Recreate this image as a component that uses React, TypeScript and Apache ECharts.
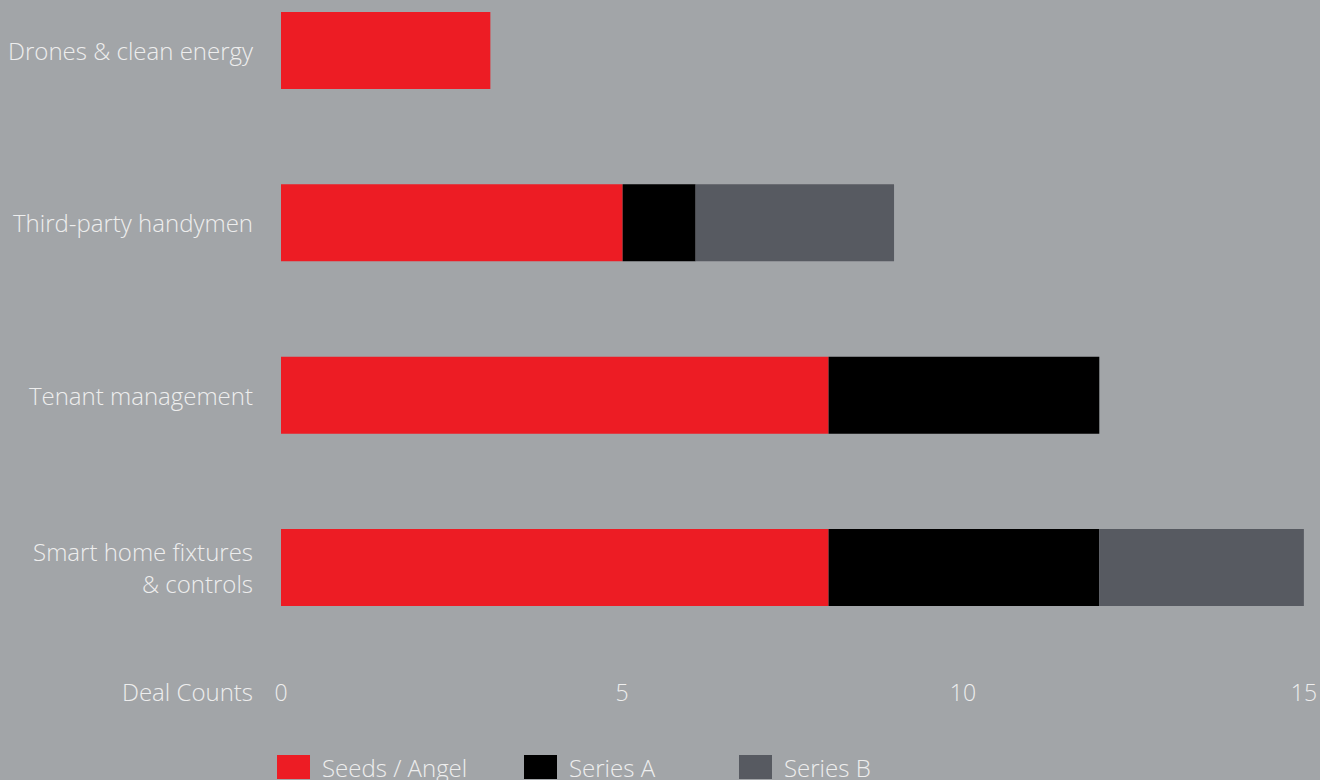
import React, { useEffect, useRef } from "react";
import * as echarts from "echarts";

const categories = [
  "Drones & clean energy",
  "Third-party handymen",
  "Tenant management",
  "Smart home fixtures\n& controls",
];
const seedsAngel = [3.07, 5.01, 8.03, 8.03];
const seriesA = [0, 1.07, 3.97, 3.97];
const seriesB = [0, 2.91, 0, 3.0];
const xTicks = [0, 5, 10, 15];
const seriesNames = ["Seeds / Angel", "Series A", "Series B"];
const colors = ["#ed1c24", "#000000", "#575a61"];

const FONT = "'Open Sans', Lato, sans-serif";
const TEXT = "#eeeeee";

export default function App() {
  const ref = useRef<HTMLDivElement>(null);
  useEffect(() => {
    const chart = echarts.init(ref.current!, null, { renderer: "svg" });
    const values = [seedsAngel, seriesA, seriesB];
    const legendLefts = [277, 524, 739];
    chart.setOption({
      animation: false,
      backgroundColor: "#a2a5a8",
      textStyle: { fontFamily: FONT, fontWeight: 300 },
      grid: { left: 281, width: 1028, top: 50.5, height: 517, containLabel: false },
      xAxis: {
        type: "value",
        min: xTicks[0],
        max: xTicks[xTicks.length - 1],
        interval: 5,
        splitLine: { show: false },
        axisLine: { show: false },
        axisTick: { show: false },
        axisLabel: {
          color: TEXT,
          fontSize: 23,
          fontFamily: FONT,
          fontWeight: 300,
          margin: 113,
        },
      },
      yAxis: {
        type: "category",
        inverse: true,
        boundaryGap: false,
        data: categories,
        axisLine: { show: false },
        axisTick: { show: false },
        splitLine: { show: false },
        axisLabel: {
          color: TEXT,
          fontSize: 24,
          fontFamily: FONT,
          fontWeight: 300,
          margin: 28,
          lineHeight: 32,
          align: "right",
        },
      },
      legend: seriesNames.map((n, i) => ({
        data: [n],
        left: legendLefts[i],
        top: 755,
        padding: 0,
        itemWidth: 33,
        itemHeight: 24,
        icon: "rect",
        textStyle: { color: TEXT, fontSize: 24, fontFamily: FONT, fontWeight: 300, padding: [0, 0, 0, 7] },
      })),
      graphic: [
        {
          type: "text",
          right: 1320 - 253,
          top: 679,
          style: {
            text: "Deal Counts",
            fill: TEXT,
            fontSize: 24,
            fontFamily: FONT,
            fontWeight: 300,
            align: "right",
          },
        },
      ],
      series: seriesNames.map((n, i) => ({
        name: n,
        type: "bar",
        stack: "total",
        barWidth: 77,
        itemStyle: { color: colors[i] },
        data: values[i],
      })),
    });
    return () => chart.dispose();
  }, []);
  return (
    <div
      ref={ref}
      style={{ position: "absolute", left: 0, top: 0, width: 1320, height: 780 }}
    />
  );
}
